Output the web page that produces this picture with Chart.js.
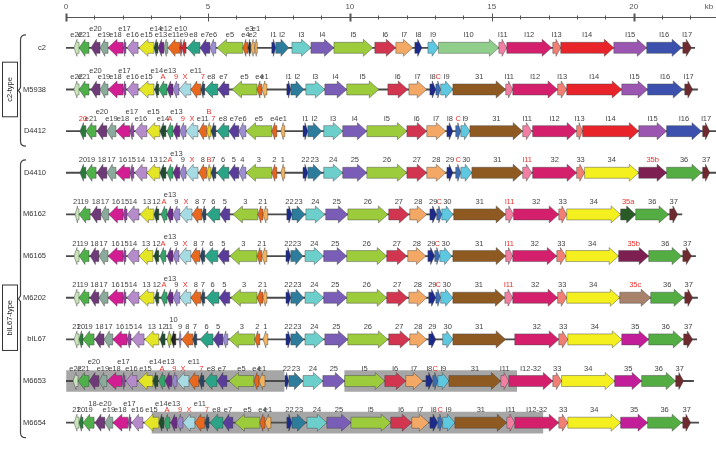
<!DOCTYPE html>
<html>
<head>
<meta charset="utf-8">
<script src="https://cdn.jsdelivr.net/npm/chart.js@4.4.0/dist/chart.umd.min.js"></script>
<style>
  html, body { margin: 0; padding: 0; background: #fff; }
  #wrap { width: 716px; height: 460px; position: relative; }
</style>
</head>
<body>
<div id="wrap"><canvas id="map"></canvas></div>
<script>
'use strict';

// genomes, top to bottom
var rowNames = ['c2', 'M5938', 'D4412', 'D4410', 'M6162', 'M6165', 'M6202', 'bIL67', 'M6653', 'M6654'];
// genome length drawn (kb)
var rowEnds = [22.15, 22.25, 22.9, 22.9, 21.70, 22.18, 22.25, 22.22, 22.11, 22.29];

// gene = [label, from kb, to kb, family, marks]; from > to means leftward
// marks: '*' = label in red, '^' = label on upper line
var c2Genes = [
  ['e22', 0.46, 0.28, 'paleGreen'], ['e21', 0.81, 0.46, 'green'], ['e20', 1.20, 0.88, 'plum', '^'],
  ['e19', 1.48, 1.20, 'sage'], ['e18', 2.01, 1.48, 'magenta'], ['e17', 2.11, 2.01, 'violet', '^'],
  ['e16', 2.54, 2.15, 'orchid'], ['e15', 3.10, 2.57, 'yellow'], ['e14', 3.24, 3.10, 'forest', '^'],
  ['e13', 3.45, 3.24, 'purple'], ['e12', 3.59, 3.45, 'sage', '^'], ['e11', 4.01, 3.59, 'orange'],
  ['e10', 4.08, 4.01, 'red', '^'], ['e9', 4.23, 4.08, 'red'], ['e8', 4.72, 4.26, 'teal'],
  ['e7', 5.07, 4.72, 'indigo'], ['e6', 5.28, 5.07, 'lavender'], ['e5', 6.23, 5.32, 'lime'],
  ['e4', 6.41, 6.23, 'ochre'], ['e3', 6.51, 6.41, 'black', '^'], ['e2', 6.65, 6.51, 'peach'],
  ['e1', 6.74, 6.65, 'peach', '^'],
  ['l1', 7.25, 7.39, 'navy'], ['l2', 7.39, 7.85, 'steel'], ['l3', 7.96, 8.63, 'aqua'],
  ['l4', 8.63, 9.44, 'iris'], ['l5', 9.44, 10.81, 'lime'], ['l6', 10.88, 11.62, 'crimson'],
  ['l7', 11.62, 12.22, 'apricot'], ['l8', 12.29, 12.54, 'navy'], ['l9', 12.75, 13.12, 'sky'],
  ['l10', 13.12, 15.25, 'mint'], ['l11', 15.25, 15.53, 'pink'], ['l12', 15.53, 17.11, 'rose'],
  ['l13', 17.15, 17.43, 'salmon'], ['l14', 17.43, 19.30, 'scarlet'], ['l15', 19.30, 20.46, 'amethyst'],
  ['l16', 20.46, 21.69, 'royal'], ['l17', 21.73, 22.04, 'maroon']
];

var m5938Genes = [
  ['e22', 0.46, 0.28, 'paleGreen'], ['e21', 0.81, 0.46, 'green'], ['e20', 1.20, 0.88, 'plum', '^'],
  ['e19', 1.48, 1.20, 'sage'], ['e18', 2.01, 1.48, 'magenta'], ['e17', 2.11, 2.01, 'violet', '^'],
  ['e16', 2.54, 2.15, 'orchid'], ['e15', 3.10, 2.57, 'yellow'], ['e14', 3.27, 3.13, 'forest', '^'],
  ['A', 3.56, 3.27, 'jade', '*'], ['e13', 3.77, 3.56, 'purple', '^'], ['9', 3.98, 3.77, 'lilac', '*'],
  ['X', 4.40, 3.98, 'ice', '*'], ['e11', 4.75, 4.40, 'orange', '^'], ['7', 4.89, 4.75, 'slate', '*'],
  ['e8', 5.35, 4.89, 'teal'], ['e7', 5.74, 5.35, 'indigo'], ['e5', 6.73, 5.85, 'lime'],
  ['e4', 6.90, 6.73, 'ochre'], ['e1', 7.08, 6.90, 'peach'],
  ['l1', 7.78, 7.92, 'navy'], ['l2', 7.92, 8.38, 'steel'], ['l3', 8.45, 9.12, 'aqua'],
  ['l4', 9.12, 9.89, 'iris'], ['l5', 9.89, 11.02, 'lime'], ['l6', 11.34, 12.04, 'crimson'],
  ['l7', 12.08, 12.71, 'apricot'], ['l8', 12.82, 13.03, 'navy'], ['C', 13.03, 13.20, 'cobalt', '*'],
  ['l9', 13.20, 13.63, 'sky'], ['31', 13.63, 15.49, 'brown'], ['l11', 15.49, 15.74, 'pink'],
  ['l12', 15.74, 17.32, 'rose'], ['l13', 17.32, 17.64, 'salmon'], ['l14', 17.64, 19.58, 'scarlet'],
  ['l15', 19.58, 20.49, 'amethyst'], ['l16', 20.49, 21.73, 'royal'], ['l17', 21.80, 22.08, 'maroon']
];

var d4412Genes = [
  ['20', 0.70, 0.49, 'darkGreen', '*'], ['e21', 1.06, 0.70, 'green'], ['e20', 1.44, 1.09, 'plum', '^'],
  ['e19', 1.76, 1.44, 'sage'], ['e18', 2.25, 1.76, 'magenta'], ['e17', 2.39, 2.25, 'violet', '^'],
  ['e16', 2.85, 2.43, 'orchid'], ['e15', 3.31, 2.85, 'yellow', '^'], ['e14', 3.52, 3.31, 'forest'],
  ['A', 3.77, 3.56, 'jade', '*'], ['e13', 4.01, 3.77, 'purple', '^'], ['9', 4.23, 4.01, 'lilac', '*'],
  ['X', 4.65, 4.23, 'ice', '*'], ['e11', 4.96, 4.68, 'orange'], ['B', 5.11, 4.96, 'gold', '*^'],
  ['7', 5.28, 5.11, 'slate', '*'], ['e8', 5.74, 5.32, 'teal'], ['e7', 6.09, 5.74, 'indigo'],
  ['e6', 6.34, 6.09, 'lavender'], ['e5', 7.25, 6.34, 'lime'], ['e4', 7.43, 7.25, 'ochre'],
  ['e1', 7.71, 7.57, 'peach'],
  ['l1', 8.35, 8.52, 'navy'], ['l2', 8.52, 9.01, 'steel'], ['l3', 9.08, 9.75, 'aqua'],
  ['l4', 9.75, 10.60, 'iris'], ['l5', 10.60, 12.01, 'lime'], ['l6', 12.01, 12.71, 'crimson'],
  ['l7', 12.71, 13.38, 'apricot'], ['l8', 13.42, 13.63, 'navy'], ['C', 13.73, 13.91, 'cobalt', '*'],
  ['l9', 13.91, 14.23, 'sky'], ['31', 14.23, 16.09, 'brown'], ['l11', 16.09, 16.41, 'pink'],
  ['l12', 16.44, 17.99, 'rose'], ['l13', 17.99, 18.20, 'salmon'], ['l14', 18.20, 20.18, 'scarlet'],
  ['l15', 20.18, 21.16, 'amethyst'], ['l16', 21.16, 22.39, 'royal'], ['l17', 22.43, 22.68, 'maroon']
];

var d4410Genes = [
  ['20', 0.70, 0.49, 'darkGreen'], ['19', 1.06, 0.70, 'green'], ['18', 1.44, 1.09, 'plum'],
  ['17', 1.76, 1.44, 'sage'], ['16', 2.25, 1.76, 'magenta'], ['15', 2.39, 2.25, 'violet'],
  ['14', 2.85, 2.43, 'orchid'], ['13', 3.31, 2.85, 'yellow'], ['12', 3.52, 3.31, 'forest'],
  ['A', 3.77, 3.56, 'jade', '*'], ['e13', 4.01, 3.77, 'purple', '^'], ['9', 4.23, 4.01, 'lilac'],
  ['X', 4.65, 4.23, 'ice', '*'], ['8', 4.96, 4.68, 'orange'], ['B', 5.11, 4.96, 'gold', '*'],
  ['7', 5.28, 5.11, 'slate'], ['6', 5.74, 5.32, 'teal'], ['5', 6.09, 5.74, 'indigo'],
  ['4', 6.34, 6.09, 'lavender'], ['3', 7.25, 6.34, 'lime'], ['2', 7.43, 7.25, 'ochre'],
  ['1', 7.71, 7.57, 'peach'],
  ['22', 8.35, 8.52, 'navy'], ['23', 8.52, 9.01, 'steel'], ['24', 9.08, 9.75, 'aqua'],
  ['25', 9.75, 10.60, 'iris'], ['26', 10.60, 12.01, 'lime'], ['27', 12.01, 12.71, 'crimson'],
  ['28', 12.71, 13.38, 'apricot'], ['29', 13.42, 13.63, 'navy'], ['C', 13.73, 13.91, 'cobalt', '*'],
  ['30', 13.91, 14.30, 'sky'], ['31', 14.30, 16.09, 'brown'], ['l11', 16.09, 16.41, 'pink', '*'],
  ['32', 16.44, 17.99, 'rose'], ['33', 17.99, 18.27, 'salmon'], ['34', 18.27, 20.18, 'lemon'],
  ['35b', 20.18, 21.16, 'wine', '*'], ['36', 21.16, 22.39, 'grass'], ['37', 22.43, 22.68, 'maroon']
];

var m6162Genes = [
  ['21', 0.46, 0.32, 'paleGreen'], ['19', 0.85, 0.46, 'green'], ['18', 1.23, 0.88, 'plum'],
  ['17', 1.51, 1.23, 'sage'], ['16', 2.01, 1.51, 'magenta'], ['15', 2.15, 2.01, 'violet'],
  ['14', 2.57, 2.15, 'orchid'], ['13', 3.10, 2.61, 'yellow'], ['12', 3.27, 3.10, 'forest'],
  ['A', 3.56, 3.35, 'jade', '*'], ['e13', 3.77, 3.56, 'purple', '^'], ['9', 4.01, 3.77, 'lilac'],
  ['X', 4.44, 4.01, 'ice', '*'], ['8', 4.79, 4.44, 'orange'], ['7', 4.93, 4.79, 'slate'],
  ['6', 5.42, 4.96, 'teal'], ['5', 5.77, 5.42, 'indigo'], ['3', 6.76, 5.88, 'lime'],
  ['2', 6.94, 6.76, 'ochre'], ['1', 7.11, 6.94, 'peach'],
  ['22', 7.78, 7.96, 'navy'], ['23', 7.96, 8.42, 'steel'], ['24', 8.45, 9.12, 'aqua'],
  ['25', 9.15, 9.93, 'iris'], ['26', 9.93, 11.34, 'lime'], ['27', 11.37, 12.08, 'crimson'],
  ['28', 12.11, 12.71, 'apricot'], ['29', 12.82, 13.06, 'navy'], ['C', 13.06, 13.24, 'cobalt', '*'],
  ['30', 13.24, 13.63, 'sky'], ['31', 13.66, 15.49, 'brown'], ['l11', 15.49, 15.77, 'pink', '*'],
  ['32', 15.77, 17.36, 'rose'], ['33', 17.36, 17.64, 'salmon'], ['34', 17.64, 19.54, 'lemon'],
  ['35a', 19.54, 20.07, 'pine', '*'], ['36', 20.07, 21.23, 'grass'], ['37', 21.27, 21.55, 'maroon']
];

var m6165Genes = [
  ['21', 0.46, 0.28, 'paleGreen'], ['19', 0.81, 0.46, 'green'], ['18', 1.16, 0.85, 'plum'],
  ['17', 1.48, 1.16, 'sage'], ['16', 2.01, 1.48, 'magenta'], ['15', 2.11, 2.01, 'violet'],
  ['14', 2.57, 2.15, 'orchid'], ['13', 3.06, 2.57, 'yellow'], ['12', 3.27, 3.10, 'forest'],
  ['A', 3.52, 3.31, 'jade', '*'], ['e13', 3.77, 3.56, 'purple', '^'], ['9', 3.98, 3.77, 'lilac'],
  ['X', 4.40, 3.98, 'ice', '*'], ['8', 4.72, 4.40, 'orange'], ['7', 4.89, 4.72, 'slate'],
  ['6', 5.35, 4.89, 'teal'], ['5', 5.74, 5.35, 'indigo'], ['3', 6.73, 5.77, 'lime'],
  ['2', 6.90, 6.73, 'ochre'], ['1', 7.08, 6.90, 'peach'],
  ['22', 7.75, 7.92, 'navy'], ['23', 7.92, 8.35, 'steel'], ['24', 8.42, 9.08, 'aqua'],
  ['25', 9.08, 9.89, 'iris'], ['26', 9.89, 11.30, 'lime'], ['27', 11.30, 12.01, 'crimson'],
  ['28', 12.04, 12.68, 'apricot'], ['29', 12.75, 12.99, 'navy'], ['C', 12.99, 13.17, 'cobalt', '*'],
  ['30', 13.17, 13.59, 'sky'], ['31', 13.63, 15.49, 'brown'], ['l11', 15.49, 15.74, 'pink', '*'],
  ['32', 15.74, 17.29, 'rose'], ['33', 17.29, 17.61, 'salmon'], ['34', 17.61, 19.47, 'lemon'],
  ['35b', 19.47, 20.53, 'wine', '*'], ['36', 20.53, 21.69, 'grass'], ['37', 21.73, 22.04, 'maroon']
];

var m6202Genes = [
  ['21', 0.46, 0.28, 'paleGreen'], ['19', 0.81, 0.46, 'green'], ['18', 1.16, 0.85, 'plum'],
  ['17', 1.48, 1.16, 'sage'], ['16', 2.01, 1.48, 'magenta'], ['15', 2.11, 2.01, 'violet'],
  ['14', 2.57, 2.15, 'orchid'], ['13', 3.10, 2.57, 'yellow'], ['12', 3.27, 3.13, 'forest'],
  ['A', 3.56, 3.35, 'jade', '*'], ['e13', 3.77, 3.56, 'purple', '^'], ['9', 4.01, 3.77, 'lilac'],
  ['X', 4.40, 4.01, 'ice', '*'], ['8', 4.75, 4.40, 'orange'], ['7', 4.89, 4.75, 'slate'],
  ['6', 5.39, 4.93, 'teal'], ['5', 5.77, 5.39, 'indigo'], ['3', 6.73, 5.81, 'lime'],
  ['2', 6.94, 6.73, 'ochre'], ['1', 7.08, 6.94, 'peach'],
  ['22', 7.75, 7.92, 'navy'], ['23', 7.92, 8.38, 'steel'], ['24', 8.42, 9.08, 'aqua'],
  ['25', 9.08, 9.89, 'iris'], ['26', 9.89, 11.30, 'lime'], ['27', 11.30, 12.04, 'crimson'],
  ['28', 12.08, 12.71, 'apricot'], ['29', 12.78, 13.03, 'navy'], ['C', 13.03, 13.20, 'cobalt', '*'],
  ['30', 13.20, 13.63, 'sky'], ['31', 13.63, 15.46, 'brown'], ['l11', 15.46, 15.74, 'pink', '*'],
  ['32', 15.74, 17.32, 'rose'], ['33', 17.32, 17.64, 'salmon'], ['34', 17.64, 19.51, 'lemon'],
  ['35c', 19.51, 20.60, 'tan', '*'], ['36', 20.60, 21.76, 'grass'], ['37', 21.80, 22.08, 'maroon']
];

var bil67Genes = [
  ['21', 0.46, 0.28, 'paleGreen'], ['20', 0.60, 0.46, 'darkGreen'], ['19', 0.99, 0.60, 'green'],
  ['18', 1.34, 1.02, 'plum'], ['17', 1.65, 1.34, 'sage'], ['16', 2.15, 1.65, 'magenta'],
  ['15', 2.29, 2.15, 'violet'], ['14', 2.75, 2.32, 'orchid'], ['13', 3.27, 2.78, 'yellow'],
  ['12', 3.49, 3.31, 'forest'], ['11', 3.70, 3.56, 'chartreuse'], ['10', 3.87, 3.70, 'black', '^'],
  ['9', 4.05, 3.98, 'lavender'], ['8', 4.47, 4.08, 'orange'], ['7', 4.61, 4.47, 'slate'],
  ['6', 5.18, 4.72, 'teal'], ['5', 5.53, 5.18, 'indigo'], ['', 5.70, 5.53, 'lavender'],
  ['3', 6.65, 5.74, 'lime'], ['2', 6.83, 6.65, 'ochre'], ['1', 7.11, 6.94, 'peach'],
  ['22', 7.75, 7.92, 'navy'], ['23', 7.92, 8.38, 'steel'], ['24', 8.42, 9.08, 'aqua'],
  ['25', 9.12, 9.93, 'iris'], ['26', 9.93, 11.34, 'lime'], ['27', 11.37, 12.11, 'crimson'],
  ['28', 12.11, 12.71, 'apricot'], ['29', 12.78, 13.03, 'navy'], ['30', 13.27, 13.63, 'sky'],
  ['31', 13.63, 15.49, 'brown'], ['32', 15.81, 17.36, 'rose'], ['33', 17.36, 17.68, 'salmon'],
  ['34', 17.68, 19.58, 'lemon'], ['35', 19.58, 20.53, 'fuchsia'], ['36', 20.53, 21.73, 'grass'],
  ['37', 21.76, 22.08, 'maroon']
];

var m6653Genes = [
  ['e22', 0.42, 0.25, 'paleGreen'], ['e21', 0.81, 0.42, 'green'], ['e20', 1.16, 0.81, 'plum', '^'],
  ['e19', 1.44, 1.16, 'sage'], ['e18', 1.97, 1.44, 'magenta'], ['e17', 2.08, 1.97, 'violet', '^'],
  ['e16', 2.50, 2.11, 'orchid'], ['e15', 3.06, 2.54, 'yellow'], ['e14', 3.24, 3.06, 'forest', '^'],
  ['A', 3.49, 3.27, 'jade', '*'], ['e13', 3.73, 3.49, 'purple', '^'], ['9', 3.91, 3.73, 'lilac', '*'],
  ['X', 4.33, 3.91, 'ice', '*'], ['e11', 4.68, 4.33, 'orange', '^'], ['7', 4.86, 4.68, 'slate', '*'],
  ['e8', 5.32, 4.89, 'teal'], ['e7', 5.67, 5.32, 'indigo'], ['e5', 6.62, 5.74, 'lime'],
  ['e4', 6.80, 6.62, 'ochre'], ['e1', 7.01, 6.80, 'peach'],
  ['22', 7.71, 7.85, 'navy'], ['23', 7.85, 8.35, 'steel'], ['24', 8.35, 9.05, 'aqua'],
  ['25', 9.05, 9.82, 'iris'], ['l5', 9.82, 11.23, 'lime'], ['l6', 11.23, 11.97, 'crimson'],
  ['l7', 11.97, 12.57, 'apricot'], ['l8', 12.68, 12.92, 'navy'], ['C', 12.92, 13.10, 'cobalt', '*'],
  ['l9', 13.10, 13.49, 'sky'], ['31', 13.49, 15.32, 'brown'], ['l11', 15.32, 15.60, 'pink'],
  ['l12-32', 15.60, 17.15, 'rose'], ['33', 17.15, 17.46, 'salmon'], ['34', 17.46, 19.33, 'lemon'],
  ['35', 19.33, 20.28, 'fuchsia'], ['36', 20.28, 21.48, 'grass'], ['37', 21.48, 21.76, 'maroon']
];

var m6654Genes = [
  ['21', 0.46, 0.28, 'paleGreen'], ['20', 0.60, 0.46, 'darkGreen'], ['19', 0.99, 0.60, 'green'],
  ['18-e20', 1.37, 1.02, 'plum', '^'], ['e19', 1.65, 1.37, 'sage'], ['e18', 2.18, 1.65, 'magenta'],
  ['e17', 2.29, 2.18, 'violet', '^'], ['e16', 2.71, 2.32, 'orchid'], ['e15', 3.27, 2.75, 'yellow'],
  ['e14', 3.45, 3.27, 'forest', '^'], ['A', 3.66, 3.45, 'jade', '*'], ['e13', 3.91, 3.70, 'purple', '^'],
  ['9', 4.12, 3.91, 'lilac', '*'], ['X', 4.54, 4.12, 'ice', '*'], ['e11', 4.89, 4.54, 'orange', '^'],
  ['7', 5.04, 4.89, 'slate', '*'], ['e8', 5.53, 5.07, 'teal'], ['e7', 5.88, 5.53, 'indigo'],
  ['e5', 6.83, 5.95, 'lime'], ['e4', 7.01, 6.83, 'ochre'], ['e1', 7.22, 7.01, 'peach'],
  ['22', 7.78, 7.96, 'navy'], ['23', 7.96, 8.45, 'steel'], ['24', 8.49, 9.19, 'aqua'],
  ['25', 9.19, 10.04, 'iris'], ['l5', 10.04, 11.44, 'lime'], ['l6', 11.44, 12.18, 'crimson'],
  ['l7', 12.18, 12.78, 'apricot'], ['l8', 12.82, 13.10, 'navy'], ['C', 13.10, 13.27, 'cobalt', '*'],
  ['l9', 13.27, 13.70, 'sky'], ['31', 13.70, 15.53, 'brown'], ['l11', 15.53, 15.81, 'pink'],
  ['l12-32', 15.81, 17.36, 'rose'], ['33', 17.36, 17.68, 'salmon'], ['34', 17.68, 19.54, 'lemon'],
  ['35', 19.54, 20.49, 'fuchsia'], ['36', 20.49, 21.69, 'grass'], ['37', 21.73, 22.01, 'maroon']
];

var genesByRow = [c2Genes, m5938Genes, d4412Genes, d4410Genes, m6162Genes, m6165Genes,
  m6202Genes, bil67Genes, m6653Genes, m6654Genes];

// grey shaded (shared) regions: [genome, from kb, to kb]
var sharedRegions = [['M6653', 0.02, 7.68], ['M6653', 9.82, 15.88], ['M6654', 3.03, 16.80]];

// groups: [label, first genome, last genome, genome the box sits beside]
var groups = [['c2-type', 'c2', 'D4412', 'M5938'], ['bIL67-type', 'D4410', 'M6654', 'M6202']];

var kbTicks = [0, 5, 10, 15, 20];

var palette = {
  paleGreen: '#c8e5b8', darkGreen: '#2a7a3c', green: '#4fb04a', plum: '#6e3a78', sage: '#8aab9b',
  magenta: '#d21d93', violet: '#8f44a0', orchid: '#b58bcb', yellow: '#e4e524', forest: '#1f4b2e',
  jade: '#34a56a', purple: '#6a2b86', lilac: '#9a86cc', ice: '#a7dbe4', orange: '#e8681d',
  slate: '#2b4561', red: '#d9232e', teal: '#2aa386', indigo: '#5a3d9b', lavender: '#9b8fd1',
  lime: '#9ccb3c', ochre: '#e5641c', black: '#222222', peach: '#f2b35f', navy: '#1c2a8a',
  steel: '#2e7c9c', aqua: '#6dcfcc', iris: '#7a5db6', crimson: '#d2354f', apricot: '#f3a865',
  cobalt: '#3b6db4', sky: '#5ec8e1', mint: '#8fce8b', brown: '#8f5a22', pink: '#f07fa1',
  rose: '#d4206c', salmon: '#f17f73', scarlet: '#e8232a', amethyst: '#9b56b1', royal: '#3c51ae',
  maroon: '#6e2a2f', lemon: '#f4ef1e', wine: '#7d1f51', pine: '#2a5b27', tan: '#a9826b',
  fuchsia: '#c21e99', grass: '#53ad43', chartreuse: '#b6d334', gold: '#e8d02a'
};

var FONT = "'Liberation Sans', Arial, sans-serif";

// build bar data (genes are drawn as arrows by the plugin below)
var geneData = [];
genesByRow.forEach(function (genes, r) {
  genes.forEach(function (g) {
    geneData.push({ y: rowNames[r], x: [g[1], g[2]], name: g[0], fam: g[3], marks: g[4] || '' });
  });
});
var backboneData = rowNames.map(function (n, i) { return { y: n, x: [0, rowEnds[i]] }; });
var sharedData = sharedRegions.map(function (s) { return { y: s[0], x: [s[1], s[2]] }; });

function drawArrow(ctx, x0, x1, y, dir, color) {
  var len = x1 - x0;
  var hh = 8.5, bh = 5.5;
  var head = Math.min(9.5, len * 0.6);
  ctx.beginPath();
  if (dir > 0) {
    ctx.moveTo(x0, y - bh);
    ctx.lineTo(x1 - head, y - bh);
    ctx.lineTo(x1 - head, y - hh);
    ctx.lineTo(x1, y);
    ctx.lineTo(x1 - head, y + hh);
    ctx.lineTo(x1 - head, y + bh);
    ctx.lineTo(x0, y + bh);
  } else {
    ctx.moveTo(x1, y - bh);
    ctx.lineTo(x0 + head, y - bh);
    ctx.lineTo(x0 + head, y - hh);
    ctx.lineTo(x0, y);
    ctx.lineTo(x0 + head, y + hh);
    ctx.lineTo(x0 + head, y + bh);
    ctx.lineTo(x1, y + bh);
  }
  ctx.closePath();
  ctx.fillStyle = color;
  ctx.fill();
  ctx.lineWidth = 0.6;
  ctx.strokeStyle = 'rgba(70,70,70,0.75)';
  ctx.stroke();
}

var arrowPlugin = {
  id: 'arrows',
  afterDatasetsDraw: function (chart) {
    var ctx = chart.ctx;
    var meta = chart.getDatasetMeta(0);
    var ds = chart.data.datasets[0];
    ctx.save();
    meta.data.forEach(function (bar, i) {
      var g = ds.data[i];
      var p = bar.getProps(['x', 'base', 'y'], true);
      var left = Math.min(p.x, p.base), right = Math.max(p.x, p.base);
      drawArrow(ctx, left, right, p.y, g.x[1] > g.x[0] ? 1 : -1, palette[g.fam]);
    });
    // labels on top
    ctx.font = '7.5px ' + FONT;
    ctx.textAlign = 'center';
    ctx.textBaseline = 'middle';
    meta.data.forEach(function (bar, i) {
      var g = ds.data[i];
      if (!g.name) return;
      var p = bar.getProps(['x', 'base', 'y'], true);
      var up = g.marks.indexOf('^') >= 0;
      ctx.fillStyle = g.marks.indexOf('*') >= 0 ? '#e8302c' : '#444';
      ctx.fillText(g.name, (p.x + p.base) / 2, p.y - (up ? 19 : 12.5));
    });
    ctx.restore();
  },
  afterDraw: function (chart) {
    var ctx = chart.ctx;
    var xs = chart.scales.x, ys = chart.scales.y;
    ctx.save();

    // kb ruler along the top
    var ry = 17.5;
    ctx.strokeStyle = '#555';
    ctx.lineWidth = 1;
    ctx.beginPath();
    ctx.moveTo(xs.getPixelForValue(0), ry);
    ctx.lineTo(chart.width, ry);
    ctx.stroke();
    for (var k = 0; k <= 22; k++) {
      var px = Math.round(xs.getPixelForValue(k)) + 0.5;
      var major = kbTicks.indexOf(k) >= 0;
      ctx.lineWidth = (k % 10 === 0) ? 2 : 1;
      ctx.beginPath();
      ctx.moveTo(px, major ? 13.5 : 15.5);
      ctx.lineTo(px, major ? 21.5 : 19.5);
      ctx.stroke();
    }
    ctx.fillStyle = '#555';
    ctx.font = '8px ' + FONT;
    ctx.textAlign = 'center';
    ctx.textBaseline = 'middle';
    kbTicks.forEach(function (t) { ctx.fillText(String(t), xs.getPixelForValue(t), 7); });
    ctx.fillText('kb', 709, 7);

    // group brackets and boxes
    groups.forEach(function (grp) {
      var i0 = rowNames.indexOf(grp[1]), i1 = rowNames.indexOf(grp[2]);
      var top = ys.getPixelForValue(i0) - 13, bot = ys.getPixelForValue(i1) + 15;
      var mid = (top + bot) / 2;
      var bx = 20.5;
      ctx.strokeStyle = '#444';
      ctx.lineWidth = 1.2;
      ctx.beginPath();
      ctx.moveTo(bx + 5.5, top);
      ctx.quadraticCurveTo(bx, top, bx, top + 5);
      ctx.lineTo(bx, mid - 3);
      ctx.lineTo(bx - 2, mid);
      ctx.lineTo(bx, mid + 3);
      ctx.lineTo(bx, bot - 5);
      ctx.quadraticCurveTo(bx, bot, bx + 5.5, bot);
      ctx.stroke();

      ctx.font = '7.5px ' + FONT;
      var tw = ctx.measureText(grp[0]).width;
      var bh = tw + 30;
      var cy = ys.getPixelForValue(rowNames.indexOf(grp[3])) + (grp[0] === 'c2-type' ? 0 : 20);
      ctx.fillStyle = '#fff';
      ctx.fillRect(2.5, cy - bh / 2, 15, bh);
      ctx.lineWidth = 1;
      ctx.strokeStyle = '#333';
      ctx.strokeRect(2.5, cy - bh / 2, 15, bh);
      ctx.save();
      ctx.translate(10, cy);
      ctx.rotate(-Math.PI / 2);
      ctx.fillStyle = '#222';
      ctx.textAlign = 'center';
      ctx.textBaseline = 'middle';
      ctx.fillText(grp[0], 0, 0);
      ctx.restore();
    });
    ctx.restore();
  }
};

var ctx = document.getElementById('map').getContext('2d');
var chart = new Chart(ctx, {
  type: 'bar',
  data: {
    labels: rowNames,
    datasets: [
      { label: 'genes', data: geneData, backgroundColor: 'rgba(0,0,0,0)', borderWidth: 0,
        barThickness: 12, grouped: false, order: 0 },
      { label: 'genome', data: backboneData, backgroundColor: '#4a4a4a', borderWidth: 0,
        barThickness: 1.2, grouped: false, order: 1 },
      { label: 'shared', data: sharedData, backgroundColor: '#a6a6a6', borderWidth: 0,
        barThickness: 21, grouped: false, order: 2 }
    ]
  },
  options: {
    indexAxis: 'y',
    responsive: true,
    maintainAspectRatio: false,
    animation: false,
    devicePixelRatio: 1,
    layout: { padding: { top: 27, bottom: 9, left: 0, right: 0 } },
    scales: {
      x: { type: 'linear', min: 0, max: 22.9, display: false },
      y: {
        type: 'category',
        grid: { display: false },
        border: { display: false },
        ticks: { color: '#333', padding: 12, font: { size: 7.5, family: FONT } },
        afterFit: function (scale) { scale.width = 66; }
      }
    },
    plugins: { legend: { display: false }, tooltip: { enabled: false } }
  },
  plugins: [arrowPlugin]
});
</script>
</body>
</html>
